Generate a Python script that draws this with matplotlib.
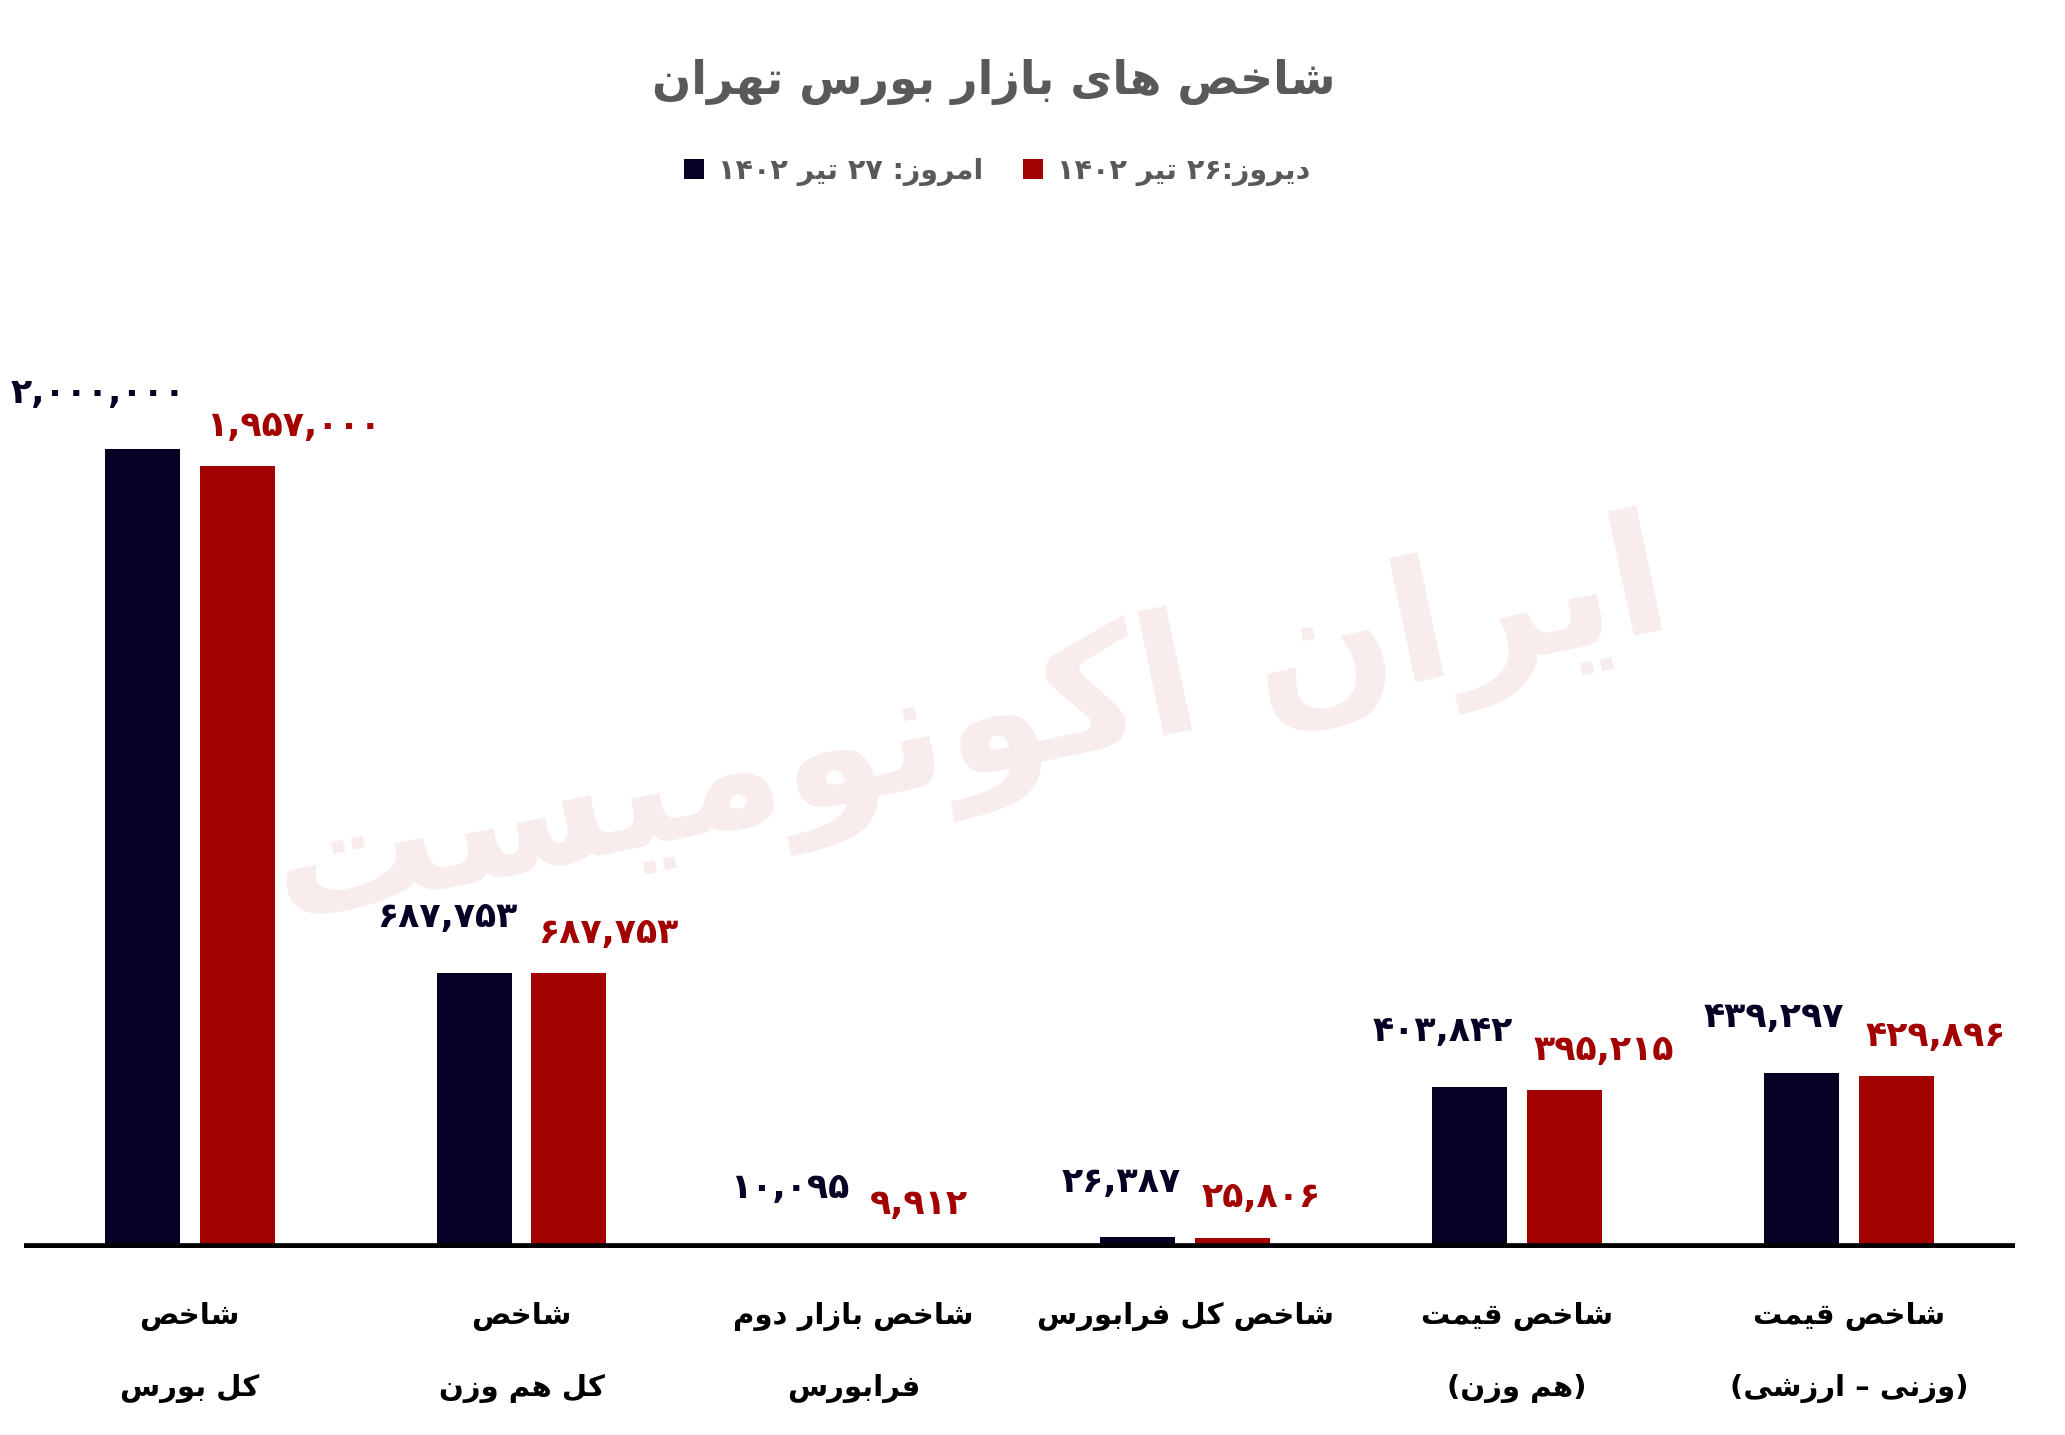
import re
import numpy as np
import matplotlib
matplotlib.use("Agg")
import matplotlib.pyplot as plt

plt.rcParams['font.family'] = ['DejaVu Sans']

title = 'شاخص های بازار بورس تهران'
legend_today = 'امروز: ۲۷ تیر ۱۴۰۲'
legend_yesterday = 'دیروز:۲۶ تیر ۱۴۰۲'
watermark = 'ایران اکونومیست'

categories = [
    'شاخص\nکل بورس',
    'شاخص\nکل هم وزن',
    'شاخص بازار دوم\nفرابورس',
    'شاخص کل فرابورس',
    'شاخص قیمت\n(هم وزن)',
    'شاخص قیمت\n(وزنی – ارزشی)',
]
today = [2000000, 687753, 10095, 26387, 403842, 439297]
yesterday = [1957000, 687753, 9912, 25806, 395215, 429896]

NAVY = '#070024'
RED = '#a30000'
GREY = '#595959'

# isolated, final, initial, medial
FORMS = {
    '\u0627': ('\uFE8D', '\uFE8E', None, None),
    '\u0628': ('\uFE8F', '\uFE90', '\uFE91', '\uFE92'),
    '\u062A': ('\uFE95', '\uFE96', '\uFE97', '\uFE98'),
    '\u062E': ('\uFEA5', '\uFEA6', '\uFEA7', '\uFEA8'),
    '\u062F': ('\uFEA9', '\uFEAA', None, None),
    '\u0631': ('\uFEAD', '\uFEAE', None, None),
    '\u0632': ('\uFEAF', '\uFEB0', None, None),
    '\u0633': ('\uFEB1', '\uFEB2', '\uFEB3', '\uFEB4'),
    '\u0634': ('\uFEB5', '\uFEB6', '\uFEB7', '\uFEB8'),
    '\u0635': ('\uFEB9', '\uFEBA', '\uFEBB', '\uFEBC'),
    '\u0641': ('\uFED1', '\uFED2', '\uFED3', '\uFED4'),
    '\u0642': ('\uFED5', '\uFED6', '\uFED7', '\uFED8'),
    '\u0644': ('\uFEDD', '\uFEDE', '\uFEDF', '\uFEE0'),
    '\u0645': ('\uFEE1', '\uFEE2', '\uFEE3', '\uFEE4'),
    '\u0646': ('\uFEE5', '\uFEE6', '\uFEE7', '\uFEE8'),
    '\u0647': ('\uFEE9', '\uFEEA', '\uFEEB', '\uFEEC'),
    '\u0648': ('\uFEED', '\uFEEE', None, None),
    '\u06A9': ('\uFB8E', '\uFB8F', '\uFB90', '\uFB91'),
    '\u06CC': ('\uFBFC', '\uFBFD', '\uFBFE', '\uFBFF'),
}


def fa(s):
    # join letters, then put into visual (left to right) order
    out = []
    for i, c in enumerate(s):
        if c not in FORMS:
            out.append(c)
            continue
        f = FORMS[c]
        prev = s[i - 1] if i > 0 else ''
        nxt = s[i + 1] if i < len(s) - 1 else ''
        jp = prev in FORMS and FORMS[prev][2] is not None
        jn = f[2] is not None and nxt in FORMS
        if jp and jn:
            out.append(f[3])
        elif jp:
            out.append(f[1])
        elif jn:
            out.append(f[2])
        else:
            out.append(f[0])
    vis = ''.join(out)[::-1]
    vis = re.sub(r'[\u06F0-\u06F9][\u06F0-\u06F9,]*', lambda m: m.group(0)[::-1], vis)
    return vis.translate(str.maketrans('()', ')('))


def fa_num(v):
    return f'{v:,}'.translate(str.maketrans('0123456789', '۰۱۲۳۴۵۶۷۸۹'))


fig = plt.figure(figsize=(20.65, 14.35), dpi=100)
ax = fig.add_axes([0.0115, 0.1303, 0.9642, 0.6681])

x = np.arange(len(categories))
w = 0.226
off = 0.143
b1 = ax.bar(x - off, today, w, color=NAVY, label=fa(legend_today), zorder=2)
b2 = ax.bar(x + off, yesterday, w, color=RED, label=fa(legend_yesterday), zorder=2)
ax.axhline(0, color='black', lw=7, zorder=3)

ax.set_xlim(-0.5, 5.5)
ax.set_ylim(0, 2.4e6)
ax.axis('off')

for xi, v in zip(x, today):
    ax.annotate(fa_num(v), (xi - off + w / 2, v), xytext=(4, 33), textcoords='offset points',
                ha='right', va='baseline', fontsize=25, fontweight='bold', color=NAVY)
for xi, v in zip(x, yesterday):
    ax.annotate(fa_num(v), (xi + off - w / 2, v), xytext=(5, 22), textcoords='offset points',
                ha='left', va='baseline', fontsize=25, fontweight='bold', color=RED)

for xi, cat in zip(x, categories):
    lines = cat.split('\n')
    for k, line in enumerate(lines):
        ax.annotate(fa(line), (xi, 0), xytext=(0, -49 - 52 * k), textcoords='offset points',
                    ha='center', va='center', fontsize=21, fontweight='bold',
                    color='black', annotation_clip=False)

fig.text(994 / 2065, 1 - 82 / 1435, fa(title), ha='center', va='center',
         fontsize=33, fontweight='bold', color=GREY)

fig.legend(handles=[b1, b2], loc='center', bbox_to_anchor=(0.483, 1 - 171 / 1435),
           ncol=2, frameon=False, prop={'weight': 'bold', 'size': 20.5},
           labelcolor=GREY, handlelength=0.7, handleheight=0.7,
           handletextpad=0.5, columnspacing=1.4)

fig.text(0.47, 0.49, fa(watermark), ha='center', va='center', rotation=12,
         fontsize=120, fontweight='bold', color=RED, alpha=0.08, zorder=5)

fig.savefig('out.png', dpi=100)
